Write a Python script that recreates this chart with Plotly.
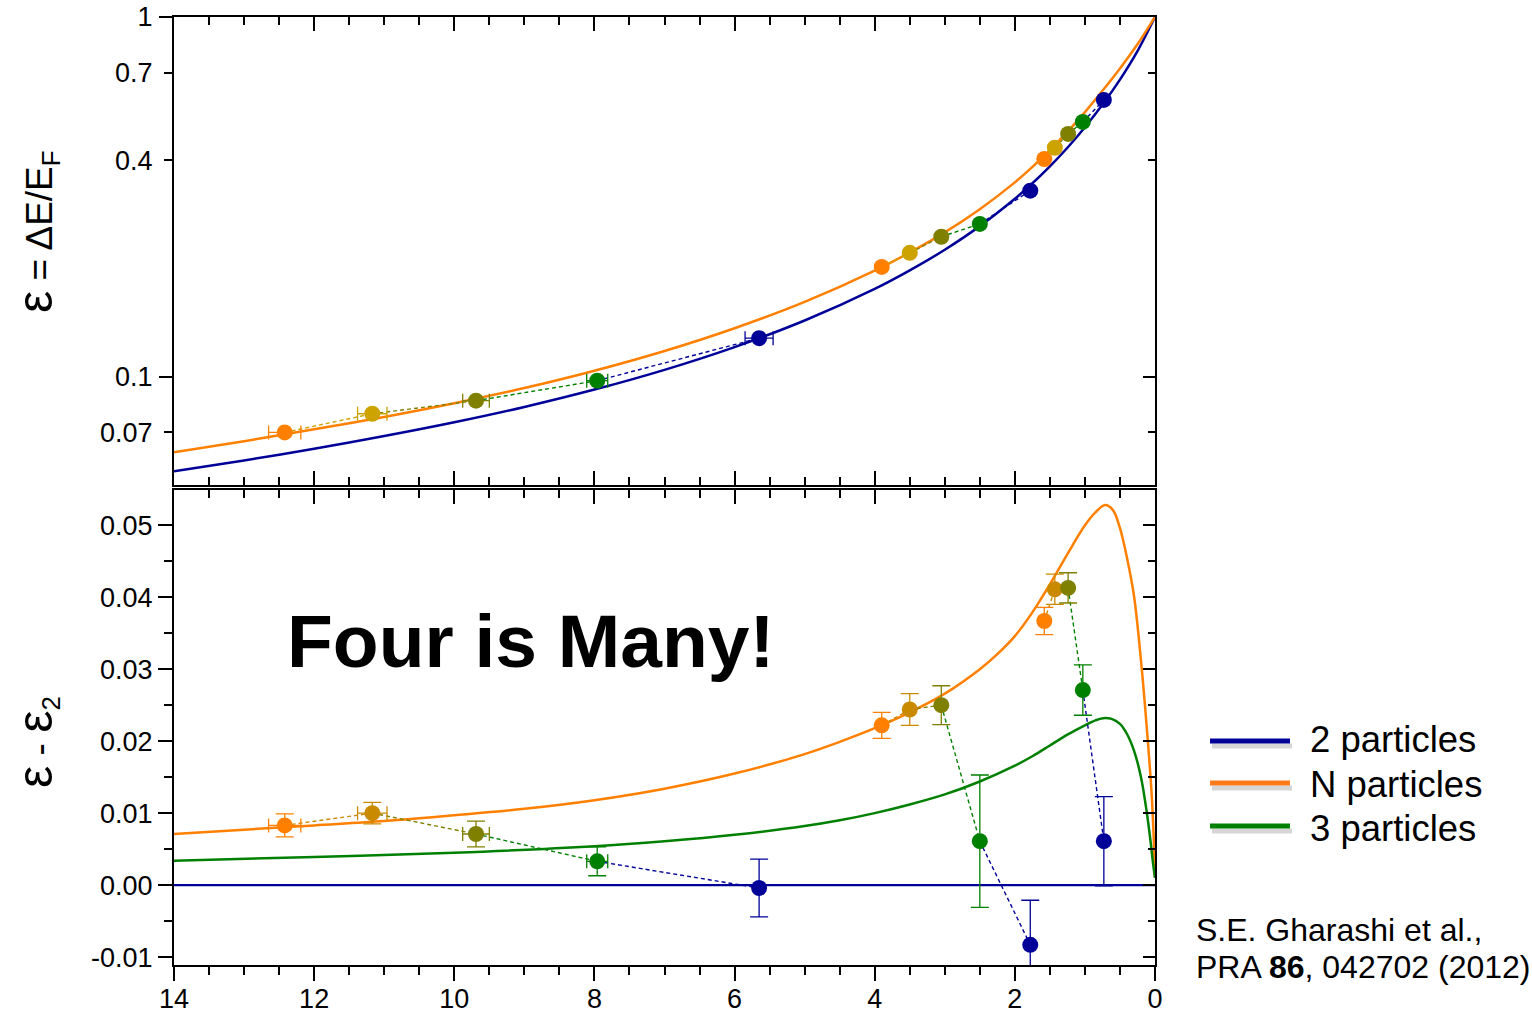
import plotly.graph_objects as go

W, H = 1532, 1016
FONT = "Liberation Sans, Arial, sans-serif"

# ---------------- theory curves ----------------
# upper panel: eps = dE/E_F versus the interaction parameter (log scale)
top_curve_x = [14, 13, 12, 11, 10, 9, 8, 7, 6, 5, 4, 3.5, 3, 2.5, 2, 1.78, 1.5,
               1.25, 1.0, 0.73, 0.5, 0.25, 0]
eps_two = [0.0546, 0.0585, 0.0631, 0.0684, 0.0747, 0.0824, 0.0921, 0.1045,
           0.1209, 0.1433, 0.1754, 0.1975, 0.2254, 0.2622, 0.3124, 0.3406,
           0.3845, 0.4331, 0.4940, 0.5778, 0.6697, 0.8038, 1.0]
eps_many = [0.0617, 0.0662, 0.0714, 0.0773, 0.0844, 0.0930, 0.1039, 0.1179,
            0.1364, 0.1615, 0.1972, 0.2215, 0.2520, 0.2922, 0.3470, 0.3781,
            0.4263, 0.4791, 0.5440, 0.6305, 0.7193, 0.8395, 1.0]

# lower panel: eps - eps_2
diff_many_x = [14, 13, 12, 11, 10, 9, 8, 7, 6, 5, 4.5, 4, 3.5, 3, 2.5, 2.25, 2,
               1.75, 1.5, 1.25, 1.0, 0.85, 0.71, 0.6, 0.5, 0.4, 0.3, 0.2, 0.12,
               0.05, 0.02, 0]
diff_many = [0.0071, 0.0077, 0.0083, 0.0089, 0.0097, 0.0106, 0.0118, 0.0134,
             0.0155, 0.0182, 0.0199, 0.0218, 0.0240, 0.0266, 0.0300, 0.0321,
             0.0346, 0.0379, 0.0418, 0.0460, 0.0500, 0.0518, 0.0528, 0.0521,
             0.0496, 0.0455, 0.0402, 0.0312, 0.0222, 0.0130, 0.0070, 0.0011]
diff_three_x = [14, 12, 10, 8, 7, 6, 5, 4.5, 4, 3.5, 3, 2.5, 2, 1.75, 1.5, 1.25,
                1.0, 0.85, 0.74, 0.62, 0.5, 0.4, 0.3, 0.2, 0.12, 0.06, 0.03, 0]
diff_three = [0.0034, 0.0039, 0.0045, 0.0054, 0.0061, 0.0070, 0.0082, 0.0090,
              0.0100, 0.0112, 0.0126, 0.0144, 0.0166, 0.0179, 0.0194, 0.0209,
              0.0222, 0.0229, 0.0232, 0.0231, 0.0224, 0.0210, 0.0187, 0.0150,
              0.0103, 0.0058, 0.0032, 0.0010]
diff_two_x = [14, 0]
diff_two = [0.0, 0.0]

# ---------------- measured points (three runs, five samples each) ----------------
orange_x = [12.42, 3.90, 1.58]
gold_x = [11.17, 3.50, 1.43]
olive_x = [9.69, 3.05, 1.24]
green_x = [7.96, 2.50, 1.03]
blue_x = [5.65, 1.78, 0.73]

orange_xerr = [0.23, None, None]
gold_xerr = [0.21, None, None]
olive_xerr = [0.19, None, None]
green_xerr = [0.15, None, None]
blue_xerr = [0.2, None, None]

orange_eps = [0.0700, 0.202, 0.403]
gold_eps = [0.0789, 0.221, 0.433]
olive_eps = [0.0858, 0.245, 0.473]
green_eps = [0.0975, 0.266, 0.511]
blue_eps = [0.128, 0.329, 0.588]

orange_diff = [0.0083, 0.0222, 0.0367]
gold_diff = [0.0100, 0.0244, 0.0411]
olive_diff = [0.0071, 0.0250, 0.0413]
green_diff = [0.0033, 0.0061, 0.0271]
blue_diff = [-0.0004, -0.0083, 0.0061]

orange_err = [0.0016, 0.0018, 0.0019]
gold_err = [0.0015, 0.0022, 0.0021]
olive_err = [0.0018, 0.0027, 0.0021]
green_err = [0.0020, 0.0092, 0.0035]
blue_err = [0.0040, 0.0062, 0.0062]

y_tick_vals = [-0.01, 0.0, 0.01, 0.02, 0.03, 0.04, 0.05]
y_tick_text = ["-0.01", "0.00", "0.01", "0.02", "0.03", "0.04", "0.05"]
log_tick_vals = [0.07, 0.1, 0.4, 0.7, 1]
log_tick_text = ["0.07", "0.1", "0.4", "0.7", "1"]

BLUE = "#000099"
ORANGE = "#FF8000"
GREEN = "#008000"
OLIVE = "#808000"
GOLD_TOP = "#CCA300"
GOLD_BOT = "#C98A00"


def px(x):
    return x / W


def py(y):
    return 1 - y / H


X_DOM = [px(174), px(1155)]
TOP_DOM = [py(485), py(17)]
BOT_DOM = [py(965), py(490)]

fig = go.Figure()

# theory curves
curve = dict(mode="lines", line_shape="spline", hoverinfo="skip", showlegend=False)
fig.add_trace(go.Scatter(x=top_curve_x, y=eps_two, xaxis="x2", yaxis="y2",
                         line=dict(color=BLUE, width=2.5, smoothing=0.9), **curve))
fig.add_trace(go.Scatter(x=top_curve_x, y=eps_many, xaxis="x2", yaxis="y2",
                         line=dict(color=ORANGE, width=2.5, smoothing=0.9), **curve))
fig.add_trace(go.Scatter(x=diff_two_x, y=diff_two, xaxis="x", yaxis="y",
                         line=dict(color=BLUE, width=2.2), **curve))
fig.add_trace(go.Scatter(x=diff_many_x, y=diff_many, xaxis="x", yaxis="y",
                         line=dict(color=ORANGE, width=2.5, smoothing=1.0), **curve))
fig.add_trace(go.Scatter(x=diff_three_x, y=diff_three, xaxis="x", yaxis="y",
                         line=dict(color=GREEN, width=2.5, smoothing=1.0), **curve))

series_x = [orange_x, gold_x, olive_x, green_x, blue_x]
series_xerr = [orange_xerr, gold_xerr, olive_xerr, green_xerr, blue_xerr]
series_top = [orange_eps, gold_eps, olive_eps, green_eps, blue_eps]
series_bot = [orange_diff, gold_diff, olive_diff, green_diff, blue_diff]
series_err = [orange_err, gold_err, olive_err, green_err, blue_err]
colors_top = [ORANGE, GOLD_TOP, OLIVE, GREEN, BLUE]
colors_bot = [ORANGE, GOLD_BOT, OLIVE, GREEN, BLUE]

# dashed connectors: each segment takes the colour of the sample it leads to
for ys, cols, xa, ya in [(series_top, colors_top, "x2", "y2"),
                         (series_bot, colors_bot, "x", "y")]:
    for k in range(1, 5):
        sx, sy = [], []
        for g in range(3):
            sx += [series_x[k - 1][g], series_x[k][g], None]
            sy += [ys[k - 1][g], ys[k][g], None]
        fig.add_trace(go.Scatter(x=sx, y=sy, xaxis=xa, yaxis=ya, mode="lines",
                                 line=dict(color=cols[k], width=1.4, dash="4px,3px"),
                                 hoverinfo="skip", showlegend=False))

# markers with error bars
for k in range(5):
    fig.add_trace(go.Scatter(
        x=series_x[k], y=series_top[k], xaxis="x2", yaxis="y2", mode="markers",
        marker=dict(color=colors_top[k], size=16, line=dict(width=0)),
        error_x=dict(type="data", array=series_xerr[k], color=colors_top[k],
                     thickness=1.3, width=7),
        showlegend=False))
    bottom_xerr = (dict(type="data", array=series_xerr[k], color=colors_bot[k],
                        thickness=1.3, width=7) if k < 4 else None)
    fig.add_trace(go.Scatter(
        x=series_x[k], y=series_bot[k], xaxis="x", yaxis="y", mode="markers",
        marker=dict(color=colors_bot[k], size=16, line=dict(width=0)),
        error_x=bottom_xerr,
        error_y=dict(type="data", array=series_err[k], color=colors_bot[k],
                     thickness=1.3, width=9),
        showlegend=False))

# empty traces so that every frame axis owns a subplot
for xa, ya in [("x3", "y2"), ("x4", "y"), ("x2", "y3"), ("x", "y4"),
               ("x2", "y5"), ("x2", "y6")]:
    fig.add_trace(go.Scatter(x=[], y=[], xaxis=xa, yaxis=ya, showlegend=False,
                             hoverinfo="skip"))

tickfont = dict(family=FONT, size=27, color="black")
base = dict(showgrid=False, zeroline=False, linecolor="black", linewidth=2,
            tickcolor="black", tickwidth=2, tickfont=tickfont, automargin=False)
xr = [14, 0]
xticks = dict(tickmode="linear", tick0=0, dtick=2)


def xminor(side):
    return dict(ticks=side, ticklen=8, tickwidth=2, tickcolor="black",
                tickmode="linear", tick0=0, dtick=0.5)


LOGR = [-1.30103, 0]
YR = [-0.0111, 0.0549]

fig.update_layout(
    width=W, height=H,
    margin=dict(l=0, r=0, t=0, b=0, autoexpand=False),
    paper_bgcolor="white", plot_bgcolor="white",
    font=dict(family=FONT, color="black"),
    showlegend=False,
    xaxis=dict(base, domain=X_DOM, range=xr, anchor="y", side="bottom",
               showline=True, ticks="outside", ticklen=14, **xticks,
               minor=xminor("outside"), ticklabelstandoff=-5),
    xaxis2=dict(base, domain=X_DOM, range=xr, anchor="y2", side="bottom",
                showline=True, ticks="inside", ticklen=14, **xticks,
                minor=xminor("inside"), showticklabels=False),
    xaxis3=dict(base, range=xr, overlaying="x2", anchor="y2", side="top",
                showline=True, ticks="inside", ticklen=14, **xticks,
                minor=xminor("inside"), showticklabels=False),
    xaxis4=dict(base, range=xr, overlaying="x", anchor="y", side="top",
                showline=True, ticks="inside", ticklen=14, **xticks,
                minor=xminor("inside"), showticklabels=False),
    yaxis=dict(base, domain=BOT_DOM, range=YR, anchor="x", side="left",
               showline=True, ticks="outside", ticklen=14,
               tickmode="array", tickvals=y_tick_vals, ticktext=y_tick_text,
               minor=dict(ticks="outside", ticklen=8, tickwidth=2,
                          tickcolor="black", tickmode="linear", tick0=0,
                          dtick=0.005)),
    yaxis2=dict(base, domain=TOP_DOM, type="log", range=LOGR, anchor="x2",
                side="left", showline=True, ticks="outside", ticklen=8,
                tickmode="array", tickvals=log_tick_vals, ticktext=log_tick_text,
                ticklabelstandoff=6),
    yaxis3=dict(base, type="log", range=LOGR, overlaying="y2", anchor="x2",
                side="left", showline=False, ticks="outside", ticklen=14,
                tickmode="array", tickvals=[0.1, 1], showticklabels=False),
    yaxis4=dict(base, range=YR, overlaying="y", anchor="x", side="right",
                showline=True, ticks="inside", ticklen=12,
                tickmode="array", tickvals=y_tick_vals, showticklabels=False,
                minor=dict(ticks="inside", ticklen=7, tickwidth=2,
                           tickcolor="black", tickmode="linear", tick0=0,
                           dtick=0.005)),
    yaxis5=dict(base, type="log", range=LOGR, overlaying="y2", anchor="x2",
                side="right", showline=True, ticks="inside", ticklen=7,
                tickmode="array", tickvals=[0.07, 0.4, 0.7], showticklabels=False),
    yaxis6=dict(base, type="log", range=LOGR, overlaying="y2", anchor="x2",
                side="right", showline=False, ticks="inside", ticklen=12,
                tickmode="array", tickvals=[0.1, 1], showticklabels=False),
)

EPS = '<span style="font-size:50px;font-weight:normal">ε</span>'
annotations = [
    dict(text="Four is Many!", x=px(285), y=py(641), xanchor="left",
         yanchor="middle", font=dict(family=FONT, size=75, color="black",
                                     weight="bold")),
    dict(text=EPS + " = ΔE/E<sub>F</sub>",
         x=px(36), y=py(232), textangle=-90, xanchor="center", yanchor="middle",
         font=dict(family=FONT, size=37, color="black")),
    dict(text=EPS + " - " + EPS + "<sub>2</sub>",
         x=px(36), y=py(742), textangle=-90, xanchor="center", yanchor="middle",
         font=dict(family=FONT, size=37, color="black")),
    dict(text="S.E. Gharashi et al.,", x=px(1194), y=py(930), xanchor="left",
         yanchor="middle", font=dict(family=FONT, size=32, color="black")),
    dict(text="PRA <b>86</b>, 042702 (2012)", x=px(1194), y=py(967),
         xanchor="left", yanchor="middle",
         font=dict(family=FONT, size=32, color="black")),
]

shapes = []
legend_rows = [(741, 739, BLUE, "2 particles"),
               (783, 784, "#FF7A1A", "N particles"),
               (826, 828, GREEN, "3 particles")]
for ly, ty, col, label in legend_rows:
    shapes.append(dict(type="line", xref="paper", yref="paper",
                       x0=px(1212), x1=px(1292), y0=py(ly + 5), y1=py(ly + 5),
                       line=dict(color="rgba(0,0,0,0.16)", width=5)))
    shapes.append(dict(type="line", xref="paper", yref="paper",
                       x0=px(1210), x1=px(1290), y0=py(ly), y1=py(ly),
                       line=dict(color=col, width=5)))
    annotations.append(dict(text=label, x=px(1308), y=py(ty),
                            xanchor="left", yanchor="middle",
                            font=dict(family=FONT, size=36.5, color="black")))

for a in annotations:
    a.update(xref="paper", yref="paper", showarrow=False)
fig.update_layout(annotations=annotations, shapes=shapes)

fig.write_html("out.html")
